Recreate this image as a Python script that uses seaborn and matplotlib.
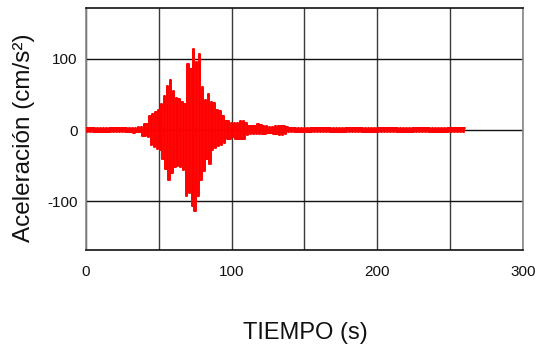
import matplotlib
matplotlib.use("Agg")
import matplotlib.pyplot as plt
import seaborn as sns
import pandas as pd

# Time axis (s), one sample per second
tiempo = list(range(0, 261))

# Acceleration (cm/s²), values (alternating peaks)
aceleracion = [
    # 0-29 s
    3, -3, 3, -3, 3, -3, 3, -3, 3, -3,
    3, -3, 3, -3, 3, -3, 3, -3, 3, -3,
    3, -3, 3, -3, 3, -3, 3, -3, 3, -3,
    # 30-39 s
    3, -3, 3, -4, 3, -3, 4, -3, 4, -9,
    # 40-49 s
    8, -9, 8, -10, 19, -21, 22, -24, 26, -26,
    # 50-59 s
    28, -28, 36, -40, 48, -55, 62, -70, 70, -60,
    # 60-69 s
    55, -52, 45, -50, 44, -52, 40, -56, 37, -93,
    # 70-79 s
    93, -88, 85, -107, 113, -113, 96, -93, 107, -70,
    # 80-89 s
    60, -58, 42, -40, 50, -47, 40, -28, 38, -25,
    # 90-99 s
    28, -22, 27, -21, 20, -18, 12, -12, 12, -12,
    # 100-109 s
    10, -10, 10, -12, 10, -12, 12, -13, 12, -13,
    # 110-119 s
    10, -7, 6, -5, 6, -5, 6, -5, 8, -5,
    # 120-129 s
    7, -5, 5, -5, 6, -4, 4, -4, 4, -5,
    # 130-139 s
    5, -5, 6, -7, 6, -7, 6, -5, 4, -3,
    # 140-260 s
    3, -3, 3, -3, 3, -3, 3, -3, 3, -3,
    3, -3, 3, -3, 3, -3, 3, -3, 3, -3,
    3, -3, 3, -3, 3, -3, 3, -3, 3, -3,
    3, -3, 3, -3, 3, -3, 3, -3, 3, -3,
    3, -3, 3, -3, 3, -3, 3, -3, 3, -3,
    3, -3, 3, -3, 3, -3, 3, -3, 3, -3,
    3, -3, 3, -3, 3, -3, 3, -3, 3, -3,
    3, -3, 3, -3, 3, -3, 3, -3, 3, -3,
    3, -3, 3, -3, 3, -3, 3, -3, 3, -3,
    3, -3, 3, -3, 3, -3, 3, -3, 3, -3,
    3, -3, 3, -3, 3, -3, 3, -3, 3, -3,
    3, -3, 3, -3, 3, -3, 3, -3, 3, -3,
    3,
]

x_ticks = [0, 100, 200, 300]
x_minor = [50, 150, 250]
y_ticks = [-100, 0, 100]
x_label = "TIEMPO (s)"
y_label = "Aceleración (cm/s²)"

sns.set_theme(style="white")
plt.rcParams["font.family"] = ["Liberation Sans", "DejaVu Sans"]

df = pd.DataFrame({"t": tiempo, "a": aceleracion})

fig = plt.figure(figsize=(5.36, 3.52), dpi=100)
ax = fig.add_axes([0.1604, 0.2898, 0.8153, 0.6875])

sns.lineplot(data=df, x="t", y="a", ax=ax, color="#ff0000", linewidth=1.4,
             estimator=None, sort=False, drawstyle="steps-mid", zorder=3)

ax.set_xlim(0, 300)
ax.set_ylim(-168, 171)
ax.set_xticks(x_ticks)
ax.set_xticks(x_minor, minor=True)
ax.set_yticks(y_ticks)
ax.set_xticklabels([str(v) for v in x_ticks])
ax.set_yticklabels([str(v) for v in y_ticks])

ax.grid(True, which="both", axis="x", color="#3a3a3a", linewidth=1.0, zorder=1)
ax.grid(True, which="major", axis="y", color="#111111", linewidth=1.0, zorder=1)
ax.set_axisbelow(True)

ax.tick_params(axis="both", which="both", length=0, labelsize=11, colors="#111111")
ax.tick_params(axis="x", pad=11)
ax.tick_params(axis="y", pad=6)

for side in ["top", "bottom"]:
    ax.spines[side].set_color("#111111")
    ax.spines[side].set_linewidth(1.2)
for side in ["left", "right"]:
    ax.spines[side].set_color("#888888")
    ax.spines[side].set_linewidth(1.2)

ax.set_xlabel(x_label, fontsize=17, color="#111111")
ax.set_ylabel(y_label, fontsize=17.5, color="#111111")
ax.xaxis.label.set_va("center")
ax.yaxis.label.set_va("center")
ax.xaxis.set_label_coords(0.501, -0.343)
ax.yaxis.set_label_coords(-0.1419, 0.465)

fig.savefig("out.png", dpi=100)
